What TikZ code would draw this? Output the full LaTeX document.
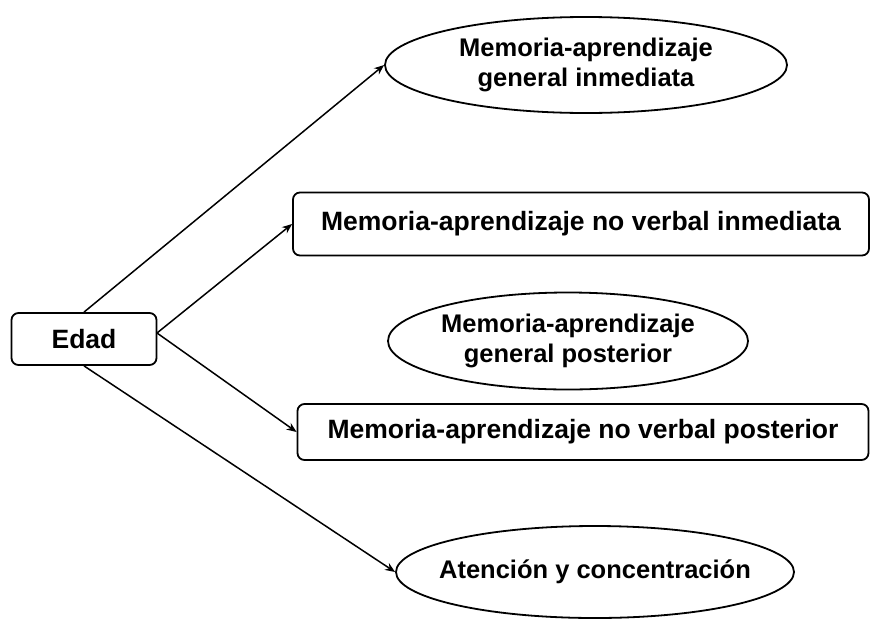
\documentclass[tikz,border=0pt]{standalone}
\usepackage{fontspec}
\setmainfont{Liberation Sans}
\usetikzlibrary{shapes.geometric,arrows.meta}
\begin{document}
\begin{tikzpicture}[x=1pt,y=-1pt,
  box/.style={draw,line width=1.8pt,rounded corners=7pt,font=\bfseries\fontsize{26.5}{30}\selectfont,inner sep=0pt,align=center},
  oval/.style={draw,ellipse,line width=1.8pt,inner sep=0pt},
  ovaltext/.style={font=\bfseries\fontsize{25.5}{30}\selectfont,inner sep=0pt,align=center},
  conn/.style={line width=1.5pt,-{Stealth[length=10pt,width=8pt]}}]
\useasboundingbox (0,0) rectangle (877,624);
\node[box,minimum width=145pt,minimum height=52pt] (edad) at (84,339) {Edad};
\node[oval,minimum width=402pt,minimum height=96pt] (e1) at (586,65) {};
\node[ovaltext] (e1t) at (e1.center) {Memoria-aprendizaje\\general inmediata};
\node[box,minimum width=576pt,minimum height=63pt] (r2) at (581,224) {Memoria-aprendizaje no verbal inmediata};
\node[oval,minimum width=360pt,minimum height=97pt] (e3) at (568,341) {};
\node[ovaltext] (e3t) at (e3.center) {Memoria-aprendizaje\\general posterior};
\node[box,minimum width=571pt,minimum height=56pt] (r4) at (583,432) {Memoria-aprendizaje no verbal posterior};
\node[oval,minimum width=398pt,minimum height=92pt] (e5) at (595,572) {};
\node[ovaltext] (e5t) at (e5.center) {Atención y concentración};
\coordinate (s2) at (157,333);
\draw[conn] (edad.north) -- (e1.west);
\draw[conn] (s2) -- (r2.west);
\draw[conn] (s2) -- (r4.west);
\draw[conn] (edad.south) -- (e5.west);
\end{tikzpicture}
\end{document}
